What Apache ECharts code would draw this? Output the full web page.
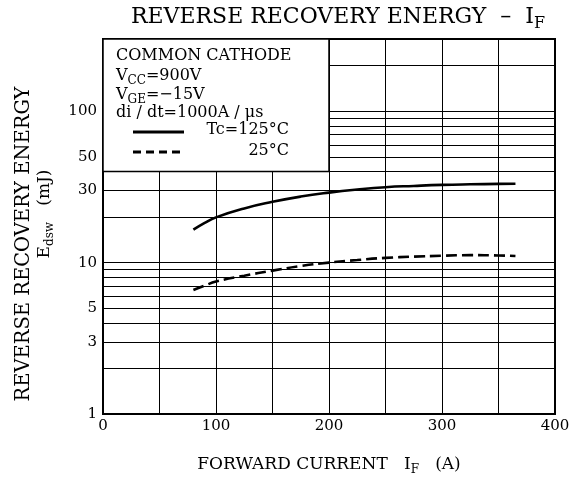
<!DOCTYPE html>
<html>
<head>
<meta charset="utf-8">
<script src="https://cdn.jsdelivr.net/npm/echarts@6/dist/echarts.min.js"></script>
<style>
html,body{margin:0;padding:0;background:#fff;}
#chart{width:574px;height:483px;}
</style>
</head>
<body>
<div id="chart"></div>
<script>
// ---- data ----
var current = [80, 90, 100, 125, 150, 175, 200, 225, 250, 275, 300, 325, 350, 365];
var energy125 = [16.5, 18.3, 19.9, 22.8, 25.2, 27.3, 29.0, 30.4, 31.5, 32.1, 32.6, 32.9, 33.1, 33.2];
var energy25 = [6.6, 7.05, 7.5, 8.2, 8.85, 9.5, 10.0, 10.4, 10.75, 10.95, 11.1, 11.2, 11.15, 11.05];
var yGridValues = [2, 3, 4, 5, 6, 7, 8, 9, 20, 30, 40, 50, 60, 70, 80, 90, 200];
var yExtraLabels = [3, 5, 30, 50];
var yMainLabels = [1, 10, 100];
var xLabels = [0, 100, 200, 300, 400];

var FONT = 'DejaVu Serif';
function pairs(xs, ys) { return xs.map(function (x, i) { return [x, ys[i]]; }); }

var chart = echarts.init(document.getElementById('chart'), null, {renderer: 'canvas'});
function sub(size, lh) { return {sub: {fontFamily: FONT, fontSize: size, fill: '#000', verticalAlign: 'bottom', lineHeight: lh}}; }

var option = {
  animation: false,
  backgroundColor: '#fff',
  grid: {left: 103, right: 19, top: 39, bottom: 69, show: true, borderColor: '#000', borderWidth: 2, backgroundColor: 'transparent'},
  xAxis: {
    type: 'value', min: 0, max: 400, interval: 50,
    axisLine: {lineStyle: {color: '#000', width: 2}},
    axisTick: {show: false},
    axisLabel: {
      color: '#000', fontFamily: FONT, fontSize: 15, margin: 5,
      formatter: function (v) { return xLabels.indexOf(v) >= 0 ? String(v) : ''; }
    },
    splitLine: {show: true, lineStyle: {color: '#000', width: 1}}
  },
  yAxis: {
    type: 'log', logBase: 10, min: 1, max: 300,
    axisLine: {show: true, lineStyle: {color: '#000', width: 2}},
    axisTick: {show: false},
    axisLabel: {
      color: '#000', fontFamily: FONT, fontSize: 15, margin: 6,
      formatter: function (v) { var r = Math.round(v); return yMainLabels.indexOf(r) >= 0 ? String(r) : ''; }
    },
    splitLine: {show: true, lineStyle: {color: '#000', width: 1}}
  },
  series: [
    {
      type: 'line', data: [], z: 1, silent: true,
      markLine: {
        silent: true, symbol: 'none', animation: false, z: 1,
        lineStyle: {color: '#000', width: 1, type: 'solid'},
        data: yGridValues.map(function (v) {
          var show = yExtraLabels.indexOf(v) >= 0;
          return {
            yAxis: v,
            label: {show: show, position: 'start', distance: 6, formatter: String(v),
              color: '#000', fontFamily: FONT, fontSize: 15}
          };
        })
      }
    },
    {
      type: 'line', data: [], z: 4, silent: true,
      markArea: {
        silent: true, z: 4,
        itemStyle: {color: '#fff', borderColor: '#000', borderWidth: 1.5, opacity: 1},
        data: [[{xAxis: 0, yAxis: 40}, {xAxis: 200, yAxis: 300}]]
      }
    },
    {
      name: 'Tc=125°C', type: 'line', smooth: true, symbol: 'none', z: 6,
      lineStyle: {color: '#000', width: 2.6, type: 'solid'},
      data: pairs(current, energy125)
    },
    {
      name: '25°C', type: 'line', smooth: true, symbol: 'none', z: 6,
      lineStyle: {color: '#000', width: 2.6, type: [11, 5]},
      data: pairs(current, energy25)
    }
  ],
  graphic: [
    {type: 'text', x: 338, y: 17, z: 10, style: {
      text: 'REVERSE RECOVERY ENERGY  –  I{sub|F}', fontFamily: FONT, fontSize: 22, fill: '#000',
      align: 'center', verticalAlign: 'middle', rich: sub(16, 30)
    }},
    {type: 'text', x: 329, y: 465, z: 10, style: {
      text: 'FORWARD CURRENT   I{sub|F}   (A)', fontFamily: FONT, fontSize: 17, fill: '#000',
      align: 'center', verticalAlign: 'middle', rich: sub(12, 22)
    }},
    {type: 'text', x: 24, y: 244, rotation: Math.PI / 2, z: 10, style: {
      text: 'REVERSE RECOVERY ENERGY', fontFamily: FONT, fontSize: 19.5, fill: '#000',
      align: 'center', verticalAlign: 'middle'
    }},
    {type: 'text', x: 45, y: 214, rotation: Math.PI / 2, z: 10, style: {
      text: 'E{sub|dsw}   (mJ)', fontFamily: FONT, fontSize: 17, fill: '#000',
      align: 'center', verticalAlign: 'middle', rich: sub(12, 22)
    }},
    {type: 'text', x: 116, y: 56, z: 10, style: {
      text: 'COMMON CATHODE', fontFamily: FONT, fontSize: 16, fill: '#000', verticalAlign: 'middle'
    }},
    {type: 'text', x: 116, y: 76, z: 10, style: {
      text: 'V{sub|CC}=900V', fontFamily: FONT, fontSize: 16, fill: '#000', verticalAlign: 'middle', rich: sub(12, 22)
    }},
    {type: 'text', x: 116, y: 95, z: 10, style: {
      text: 'V{sub|GE}=−15V', fontFamily: FONT, fontSize: 16, fill: '#000', verticalAlign: 'middle', rich: sub(12, 22)
    }},
    {type: 'text', x: 116, y: 113, z: 10, style: {
      text: 'di / dt=1000A / μs', fontFamily: FONT, fontSize: 16, fill: '#000', verticalAlign: 'middle'
    }},
    {type: 'line', z: 10, shape: {x1: 133, y1: 132, x2: 184, y2: 132}, style: {stroke: '#000', lineWidth: 3}},
    {type: 'line', z: 10, shape: {x1: 133, y1: 152, x2: 182, y2: 152}, style: {stroke: '#000', lineWidth: 3, lineDash: [8, 5]}},
    {type: 'text', x: 289, y: 130, z: 10, style: {
      text: 'Tc=125°C', fontFamily: FONT, fontSize: 16, fill: '#000', align: 'right', verticalAlign: 'middle'
    }},
    {type: 'text', x: 289, y: 151, z: 10, style: {
      text: '25°C', fontFamily: FONT, fontSize: 16, fill: '#000', align: 'right', verticalAlign: 'middle'
    }}
  ]
};
chart.setOption(option);
</script>
</body>
</html>
